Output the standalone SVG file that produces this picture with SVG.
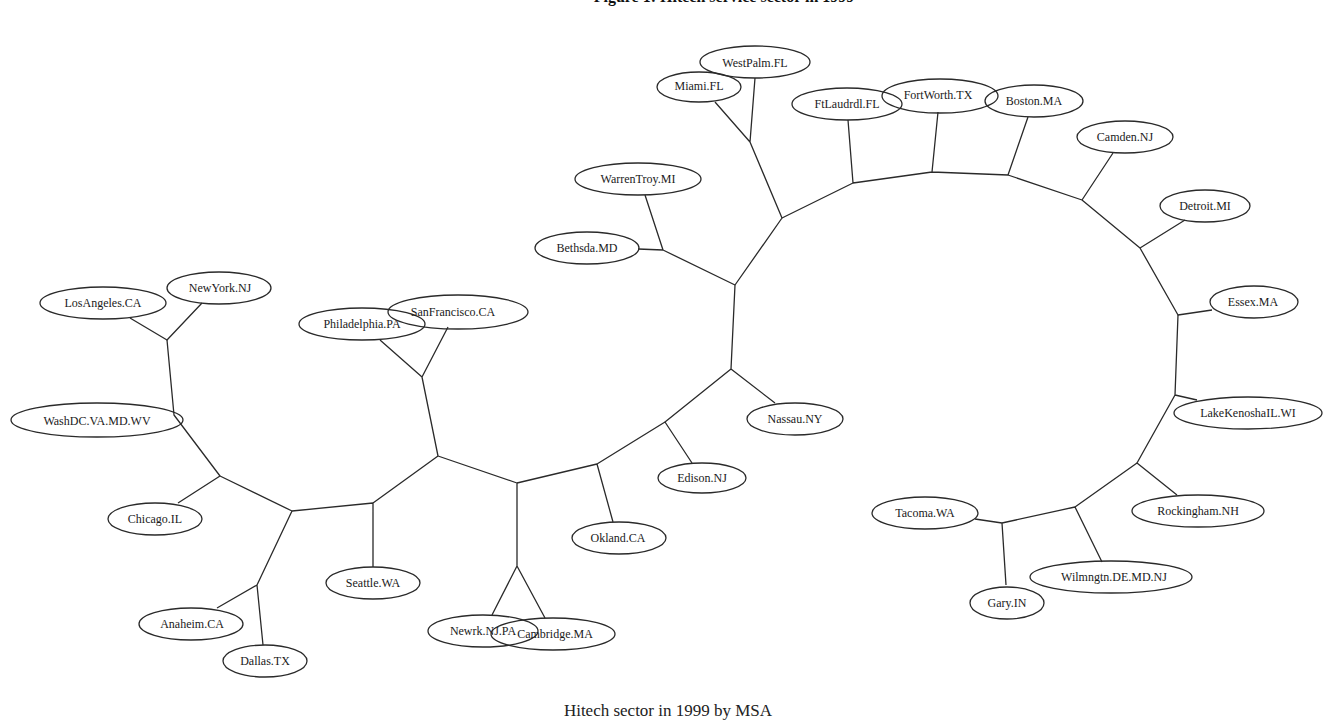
<svg xmlns="http://www.w3.org/2000/svg" width="1325" height="723" viewBox="0 0 1325 723">
<style>
.n ellipse{fill:none;stroke:#2a2a2a;stroke-width:1.3}
.n text{font-family:"Liberation Serif",serif;font-size:12px;fill:#1a1a1a;text-anchor:middle;dominant-baseline:central}
#connectors path{fill:none;stroke:#2a2a2a;stroke-width:1.3;stroke-linejoin:round}
.title{font-family:"Liberation Serif",serif;font-size:16px;font-weight:bold;fill:#111;text-anchor:middle}
.cap{font-family:"Liberation Serif",serif;font-size:17px;fill:#222;text-anchor:middle}
</style>
<rect width="1325" height="723" fill="#ffffff"/>
<text class="title" x="724" y="2">Figure 1: Hitech service sector in 1999</text>
<g id="connectors">
<path d="M130,318 L167,340 L202,303"/>
<path d="M167,340 L174,415 L220,476"/>
<path d="M178,503 L220,476 L292,511"/>
<path d="M292,511 L257,585 M217,608 L257,585 L263,645"/>
<path d="M292,511 L373,503 L373,567 M373,503 L438,456"/>
<path d="M438,456 L422,377 M380,340 L422,377 L448,327"/>
<path d="M438,456 L517,483 L517,566 M492,615 L517,566 L545,618"/>
<path d="M517,483 L597,464 L613,522 M597,464 L665,422 L692,463"/>
<path d="M665,422 L731,369 L775,403 M731,369 L735,285"/>
<path d="M735,285 L663,250 L638,249 M663,250 L645,195"/>
<path d="M735,285 L782,218 L750,142 L715,102 M750,142 L755,78"/>
<path d="M782,218 L853,183 L848,120 M853,183 L932,172 L938,112 M932,172 L1008,175 L1028,117"/>
<path d="M1008,175 L1082,200 L1113,153 M1082,200 L1140,248 L1185,220 M1140,248 L1178,315 L1212,310"/>
<path d="M1178,315 L1175,395 L1197,400 M1175,395 L1137,463 L1177,495"/>
<path d="M1137,463 L1075,507 L1102,562 M1075,507 L1002,523 L975,519 M1002,523 L1006,585"/>
</g>
<g id="n-losangeles" class="n"><ellipse cx="103" cy="303" rx="63" ry="16"/><text x="103" y="303">LosAngeles.CA</text></g>
<g id="n-newyork" class="n"><ellipse cx="219" cy="288" rx="52" ry="16"/><text x="220" y="288">NewYork.NJ</text></g>
<g id="n-washdc" class="n"><ellipse cx="97" cy="420" rx="86" ry="17"/><text x="97" y="421">WashDC.VA.MD.WV</text></g>
<g id="n-chicago" class="n"><ellipse cx="155" cy="519" rx="47" ry="16"/><text x="155" y="519">Chicago.IL</text></g>
<g id="n-anaheim" class="n"><ellipse cx="191" cy="624" rx="52" ry="16"/><text x="192" y="624">Anaheim.CA</text></g>
<g id="n-dallas" class="n"><ellipse cx="265" cy="661" rx="42" ry="16"/><text x="265" y="661">Dallas.TX</text></g>
<g id="n-seattle" class="n"><ellipse cx="373" cy="583" rx="47" ry="16"/><text x="373" y="583">Seattle.WA</text></g>
<g id="n-philadelphia" class="n"><ellipse cx="362" cy="324" rx="63" ry="16"/><text x="362" y="324">Philadelphia.PA</text></g>
<g id="n-sanfrancisco" class="n"><ellipse cx="458" cy="312" rx="70" ry="17"/><text x="453" y="312">SanFrancisco.CA</text></g>
<g id="n-newrk" class="n"><ellipse cx="483" cy="631" rx="55" ry="16"/><text x="483" y="631">Newrk.NJ.PA</text></g>
<g id="n-cambridge" class="n"><ellipse cx="553" cy="634" rx="62" ry="16"/><text x="555" y="634">Cambridge.MA</text></g>
<g id="n-okland" class="n"><ellipse cx="619" cy="538" rx="47" ry="16"/><text x="618" y="538">Okland.CA</text></g>
<g id="n-edison" class="n"><ellipse cx="702" cy="478" rx="44" ry="15"/><text x="702" y="478">Edison.NJ</text></g>
<g id="n-nassau" class="n"><ellipse cx="795" cy="419" rx="48" ry="16"/><text x="795" y="419">Nassau.NY</text></g>
<g id="n-bethsda" class="n"><ellipse cx="587" cy="248" rx="52" ry="16"/><text x="587" y="248">Bethsda.MD</text></g>
<g id="n-warrentroy" class="n"><ellipse cx="638" cy="179" rx="63" ry="16"/><text x="638" y="179">WarrenTroy.MI</text></g>
<g id="n-miami" class="n"><ellipse cx="699" cy="87" rx="42" ry="15"/><text x="699" y="86">Miami.FL</text></g>
<g id="n-westpalm" class="n"><ellipse cx="755" cy="62" rx="55" ry="16"/><text x="755" y="63">WestPalm.FL</text></g>
<g id="n-ftlaudrdl" class="n"><ellipse cx="847" cy="104" rx="55" ry="16"/><text x="847" y="104">FtLaudrdl.FL</text></g>
<g id="n-fortworth" class="n"><ellipse cx="940" cy="96" rx="58" ry="17"/><text x="938" y="95">FortWorth.TX</text></g>
<g id="n-boston" class="n"><ellipse cx="1034" cy="101" rx="49" ry="16"/><text x="1034" y="101">Boston.MA</text></g>
<g id="n-camden" class="n"><ellipse cx="1125" cy="137" rx="48" ry="16"/><text x="1125" y="137">Camden.NJ</text></g>
<g id="n-detroit" class="n"><ellipse cx="1205" cy="206" rx="45" ry="16"/><text x="1205" y="206">Detroit.MI</text></g>
<g id="n-essex" class="n"><ellipse cx="1254" cy="302" rx="44" ry="16"/><text x="1253" y="302">Essex.MA</text></g>
<g id="n-lakekenosha" class="n"><ellipse cx="1248" cy="413" rx="74" ry="16"/><text x="1248" y="413">LakeKenoshaIL.WI</text></g>
<g id="n-rockingham" class="n"><ellipse cx="1198" cy="511" rx="66" ry="16"/><text x="1198" y="511">Rockingham.NH</text></g>
<g id="n-wilmngtn" class="n"><ellipse cx="1111" cy="577" rx="81" ry="16"/><text x="1114" y="577">Wilmngtn.DE.MD.NJ</text></g>
<g id="n-tacoma" class="n"><ellipse cx="925" cy="513" rx="53" ry="16"/><text x="925" y="513">Tacoma.WA</text></g>
<g id="n-gary" class="n"><ellipse cx="1007" cy="603" rx="37" ry="16"/><text x="1007" y="603">Gary.IN</text></g>
<text class="cap" x="668" y="716">Hitech sector in 1999 by MSA</text>
</svg>
